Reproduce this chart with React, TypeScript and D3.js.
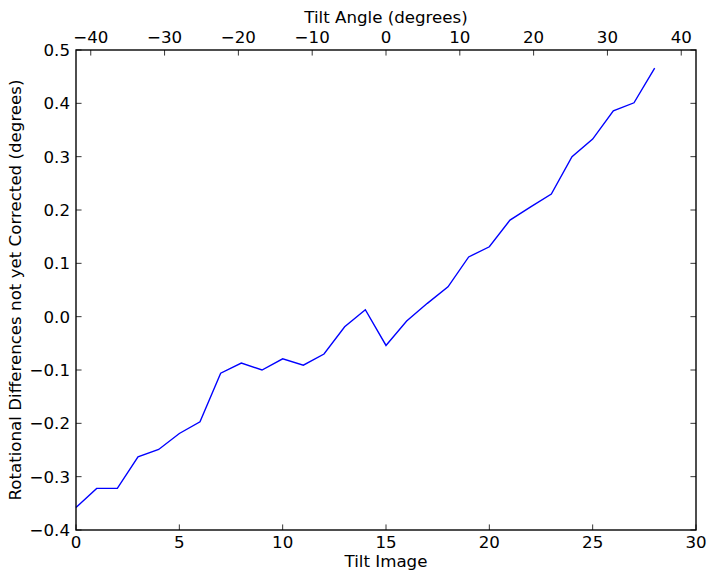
import React from "react";
import * as d3 from "d3";

const tiltImages = [0,1,2,3,4,5,6,7,8,9,10,11,12,13,14,15,16,17,18,19,20,21,22,23,24,25,26,27,28];
const rotDiff = [-0.358,-0.322,-0.322,-0.263,-0.249,-0.219,-0.197,-0.106,-0.087,-0.100,-0.079,-0.091,-0.070,-0.019,0.013,-0.054,-0.008,0.025,0.056,0.112,0.131,0.181,0.206,0.230,0.300,0.333,0.386,0.401,0.466];
const bottomTicks = [0,5,10,15,20,25,30];
const topTicks = [-40,-30,-20,-10,0,10,20,30,40];
const leftTicks = [-0.4,-0.3,-0.2,-0.1,0.0,0.1,0.2,0.3,0.4,0.5];

const W = 714, H = 579;
const L = 76, R = 696, T = 50, B = 530;
const FONT = "'DejaVu Sans', sans-serif";
const FS = 16.67;
const TL = 5.56;

const fmtMinus = (s: string) => s.replace("-", "\u2212");

export default function App() {
  const x = d3.scaleLinear().domain([0, 30]).range([L, R]);
  const xTop = d3.scaleLinear().domain([-42, 42]).range([L, R]);
  const y = d3.scaleLinear().domain([-0.4, 0.5]).range([B, T]);
  const line = d3.line<number>().x((_, i) => x(tiltImages[i])).y((d) => y(d));
  return (
    <svg width={W} height={H} style={{ position: "absolute", left: 0, top: 0, background: "#fff" }}
      fontFamily={FONT} fontSize={FS}>
      <rect x={0} y={0} width={W} height={H} fill="#fff" />
      <path d={line(rotDiff) || ""} fill="none" stroke="#0000ff" strokeWidth={1.39} />
      {/* ticks */}
      {bottomTicks.map((t) => (
        <g key={"b" + t}>
          <line x1={x(t)} x2={x(t)} y1={B} y2={B - TL} stroke="#000" strokeWidth={0.8} />
          <text x={x(t)} y={B + 18} textAnchor="middle">{t}</text>
        </g>
      ))}
      {topTicks.map((t) => (
        <g key={"t" + t}>
          <line x1={xTop(t)} x2={xTop(t)} y1={T} y2={T + TL} stroke="#000" strokeWidth={0.8} />
          <text x={xTop(t)} y={T - 7} textAnchor="middle">{fmtMinus(String(t))}</text>
        </g>
      ))}
      {leftTicks.map((t) => (
        <g key={"l" + t}>
          <line x1={L} x2={L + TL} y1={y(t)} y2={y(t)} stroke="#000" strokeWidth={0.8} />
          <line x1={R} x2={R - TL} y1={y(t)} y2={y(t)} stroke="#000" strokeWidth={0.8} />
          <text x={L - 6} y={y(t) + 6} textAnchor="end">{fmtMinus(t.toFixed(1))}</text>
        </g>
      ))}
      <rect x={L} y={T} width={R - L} height={B - T} fill="none" stroke="#000" strokeWidth={1.39} />
      <text x={(L + R) / 2} y={567} textAnchor="middle">Tilt Image</text>
      <text x={(L + R) / 2} y={23} textAnchor="middle">Tilt Angle (degrees)</text>
      <text transform={`translate(20.5, ${(T + B) / 2}) rotate(-90)`} textAnchor="middle">
        Rotational Differences not yet Corrected (degrees)
      </text>
    </svg>
  );
}
